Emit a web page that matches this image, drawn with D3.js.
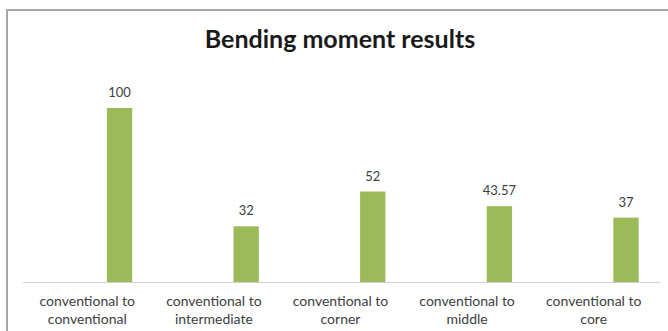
<!DOCTYPE html>
<html>
<head>
<meta charset="utf-8">
<script src="https://cdn.jsdelivr.net/npm/d3@7"></script>
<style>
  html, body { margin: 0; padding: 0; background: #fff; }
  svg { display: block; }
</style>
</head>
<body>
<svg id="chart" width="668" height="331"></svg>
<script>
const categories = [
  ["conventional to", "conventional"],
  ["conventional to", "intermediate"],
  ["conventional to", "corner"],
  ["conventional to", "middle"],
  ["conventional to", "core"]
];
const values = [100, 32, 52, 43.57, 37];
const valueLabels = ["100", "32", "52", "43.57", "37"];
const title = "Bending moment results";

const W = 668, H = 331;
const svg = d3.select("#chart");
const font = "Lato, 'Open Sans', 'Liberation Sans', sans-serif";

// chart border (only top and left visible in the crop)
svg.append("path")
  .attr("d", `M7,${H + 5} L7,10 L${W + 5},10`)
  .attr("fill", "none")
  .attr("stroke", "#a6a6a6")
  .attr("stroke-width", 2);

const x = d3.scaleBand()
  .domain(d3.range(categories.length))
  .range([24, 657])
  .padding(0);

const y = d3.scaleLinear()
  .domain([0, 100])
  .range([282, 108]);

const bw = x.bandwidth();
const barOffset = bw * 0.655;
const barW = bw * 0.2;

// title
svg.append("text")
  .attr("x", 340)
  .attr("y", 48)
  .attr("text-anchor", "middle")
  .attr("font-family", font)
  .attr("font-weight", "bold")
  .attr("font-size", 25)
  .attr("fill", "#1a1a1a")
  .text(title);

// bars
svg.append("g").selectAll("rect")
  .data(values)
  .join("rect")
  .attr("x", (d, i) => x(i) + barOffset)
  .attr("y", d => y(d))
  .attr("width", barW)
  .attr("height", d => y(0) - y(d))
  .attr("fill", "#9bbb59");

// value labels
svg.append("g").selectAll("text")
  .data(values)
  .join("text")
  .attr("x", (d, i) => x(i) + barOffset + barW / 2)
  .attr("y", d => y(d) - 11)
  .attr("text-anchor", "middle")
  .attr("font-family", font)
  .attr("font-size", 13)
  .attr("fill", "#404040")
  .text((d, i) => valueLabels[i]);

// axis line
svg.append("line")
  .attr("x1", 23).attr("x2", 660)
  .attr("y1", y(0) + 0.5).attr("y2", y(0) + 0.5)
  .attr("stroke", "#d0d0d0")
  .attr("stroke-width", 1);

// category labels
const cat = svg.append("g").selectAll("text")
  .data(categories)
  .join("text")
  .attr("x", (d, i) => x(i) + bw / 2)
  .attr("y", 306)
  .attr("text-anchor", "middle")
  .attr("font-family", font)
  .attr("font-size", 14)
  .attr("fill", "#404040");
cat.selectAll("tspan")
  .data(d => d)
  .join("tspan")
  .attr("x", function () { return d3.select(this.parentNode).attr("x"); })
  .attr("dy", (d, j) => j === 0 ? 0 : 18)
  .text(d => d);
</script>
</body>
</html>
